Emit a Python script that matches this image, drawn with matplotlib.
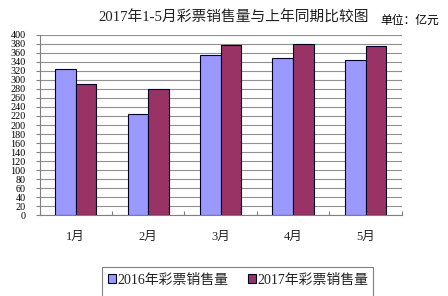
import matplotlib
matplotlib.use("Agg")
import matplotlib.pyplot as plt
import numpy as np
from matplotlib.patches import Rectangle, Patch

plt.rcParams['font.family'] = ['Liberation Serif', 'Noto Sans CJK SC', 'DejaVu Sans']

categories = ['1月', '2月', '3月', '4月', '5月']
sales_2016 = [324, 224, 356, 348, 344]
sales_2017 = [291, 280, 378, 381, 376]
series_names = ['2016年彩票销售量', '2017年彩票销售量']
yticks = list(range(0, 401, 20))

fig = plt.figure(figsize=(4.48, 2.96), dpi=100)
ax = fig.add_axes([0.0882, 0.2736, 0.8089, 0.6082])

x = np.arange(len(categories))
w = 0.286
c1, c2 = '#9999FF', '#993366'
ax.bar(x - w/2, sales_2016, w, color=c1, edgecolor='#000022', linewidth=0.8, zorder=3)
ax.bar(x + w/2, sales_2017, w, color=c2, edgecolor='#000022', linewidth=0.8, zorder=3)

ax.set_xlim(-0.5, len(categories) - 0.5)
ax.set_ylim(0, 400)
ax.set_yticks(yticks)
ax.set_yticklabels([str(v) for v in yticks], fontsize=7.3)
ax.yaxis.grid(True, color='#909090', linewidth=0.8, zorder=0)
ax.tick_params(axis='y', length=3, width=0.8, color='#808080', pad=7)

ax.set_xticks(np.arange(-0.5, len(categories), 1.0))
ax.set_xticklabels([''] * (len(categories) + 1))
ax.tick_params(axis='x', direction='in', length=3, width=0.8, color='#808080')
for i, c in enumerate(categories):
    ax.text(i, -0.122, c, transform=ax.get_xaxis_transform(), ha='center', va='center',
            fontsize=9, color='#222222')

for s in ['top', 'right']:
    ax.spines[s].set_visible(False)
for s in ['left', 'bottom']:
    ax.spines[s].set_color('#808080')
    ax.spines[s].set_linewidth(0.8)

fig.text(0.521, 0.939, '2017年1-5月彩票销售量与上年同期比较图', ha='center', va='center',
         fontsize=10.6, color='#222222')
fig.text(0.914, 0.932, '单位：亿元', ha='center', va='center', fontsize=8.5,
         family=['Noto Sans CJK SC'])

# legend box (extends below figure edge)
fig.patches.append(Rectangle((102/448, -0.05), (373-102)/448, 0.05 + (296-267)/296,
                             transform=fig.transFigure, fill=False, edgecolor='#808080',
                             linewidth=0.8))
handles = [Patch(facecolor=c1, edgecolor='#000022', linewidth=0.8),
           Patch(facecolor=c2, edgecolor='#000022', linewidth=0.8)]
fig.legend(handles, series_names, loc='center', bbox_to_anchor=(0.532, 1 - 280/296),
           ncol=2, frameon=False, handlelength=0.55, handleheight=0.55,
           handletextpad=0.15, columnspacing=1.4, borderpad=0,
           prop={'size': 10}, labelcolor='#222222')

fig.savefig('out.png', dpi=100)
